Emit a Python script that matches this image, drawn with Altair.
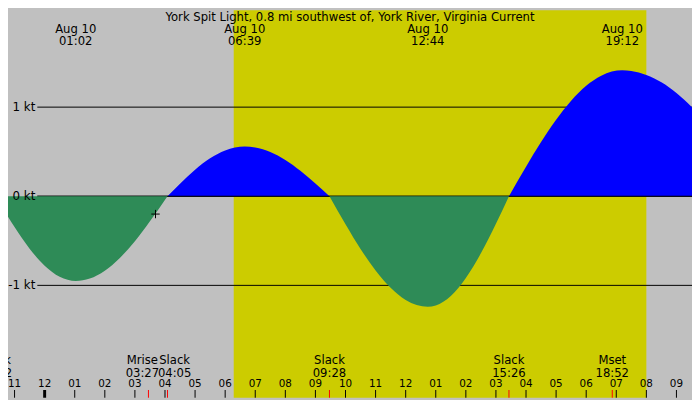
import altair as alt
import pandas as pd

TITLE = "York Spit Light, 0.8 mi southwest of, York River, Virginia Current"

# hours since midnight Aug 10, current in knots
EBB1_H = [-1.633, -1, -0.5, 0, 0.5, 1.033, 1.5, 2, 2.5, 3, 3.5, 4.083]
EBB1_V = [0, -0.346, -0.588, -0.779, -0.903, -0.95, -0.923, -0.835, -0.692, -0.504, -0.281, 0]
FLOOD1_H = [4.083, 4.5, 5, 5.5, 6, 6.65, 7, 7.5, 8, 8.5, 9, 9.467]
FLOOD1_V = [0, 0.141, 0.296, 0.425, 0.513, 0.557, 0.546, 0.496, 0.407, 0.286, 0.143, 0]
EBB2_H = [9.467, 10, 10.5, 11, 11.5, 12, 12.733, 13, 13.5, 14, 14.5, 15, 15.433]
EBB2_V = [0, -0.314, -0.591, -0.834, -1.028, -1.164, -1.24, -1.225, -1.119, -0.918, -0.641, -0.309, 0]
FLOOD2_H = [15.433, 16, 16.5, 17, 17.5, 18, 18.5, 19.2, 19.5, 20, 20.5, 21, 21.5, 22]
FLOOD2_V = [0, 0.331, 0.608, 0.859, 1.073, 1.240, 1.353, 1.413, 1.406, 1.361, 1.278, 1.158, 1.004, 0.822]

SUNRISE_H = 6.284
SUNSET_H = 20.0

MAX_H = [1.033, 6.65, 12.733, 19.2]
MAX_DATE = ["Aug 10", "Aug 10", "Aug 10", "Aug 10"]
MAX_TIME = ["01:02", "06:39", "12:44", "19:12"]

EV_NAME = ["Slack", "Mrise", "Slack", "Slack", "Slack", "Mset"]
EV_TIME = ["22:22", "03:27", "04:05", "09:28", "15:26", "18:52"]
EV_H = [-1.633, 3.45, 4.083, 9.467, 15.433, 18.867]
EV_LABEL_H = [-1.633, 3.248, 4.32, 9.467, 15.433, 18.867]

HOUR_H = list(range(-1, 22))
HOUR_LABEL = ["11", "12", "01", "02", "03", "04", "05", "06", "07", "08", "09", "10", "11",
              "12", "01", "02", "03", "04", "05", "06", "07", "08", "09"]

KT_V = [1, 0, -1]
KT_LABEL = ["1 kt", "0 kt", "-1 kt"]

NOW_H = [3.685]
NOW_V = [-0.20]

W, H = 692, 392
SX, SY = W / 700, H / 400
FONT = "DejaVu Sans"
FS = 11.75

xs = alt.Scale(domain=[-1.218, 21.517], nice=False, zero=False)
ys = alt.Scale(domain=[-2.261, 2.087], nice=False, zero=False)
X = lambda f: alt.X(f, type="quantitative", scale=xs, axis=None)
Y = lambda f: alt.Y(f, type="quantitative", scale=ys, axis=None)

rows = []
for lobe, d, hs, vs in [("e1", "ebb", EBB1_H, EBB1_V), ("f1", "flood", FLOOD1_H, FLOOD1_V),
                        ("e2", "ebb", EBB2_H, EBB2_V), ("f2", "flood", FLOOD2_H, FLOOD2_V)]:
    for h, v in zip(hs, vs):
        rows.append({"h": h, "v": v, "lobe": lobe, "dir": d})
curve = pd.DataFrame(rows)

day = alt.Chart(pd.DataFrame({"a": [SUNRISE_H], "b": [SUNSET_H]})).mark_rect(color="#CCCC00").encode(
    x=X("a"), x2="b", y=alt.value(0), y2=alt.value(H))

kt = pd.DataFrame({"v": KT_V, "label": KT_LABEL})
rules = alt.Chart(kt).mark_rule(color="black", strokeWidth=1).encode(
    y=Y("v"), x=alt.value(30 * SX), x2=alt.value(W))
zero_rule = alt.Chart(kt[kt.v == 0]).mark_rule(color="black", strokeWidth=1).encode(
    y=Y("v"), x=alt.value(30 * SX), x2=alt.value(W))

def area(direction):
    return alt.Chart(curve[curve.dir == direction]).mark_area(interpolate="monotone", clip=True).encode(
        x=X("h"), y=Y("v"), y2=alt.datum(0), detail="lobe:N",
        color=alt.Color("dir:N", scale=alt.Scale(domain=["flood", "ebb"], range=["#0000FF", "#2E8B57"]),
                        legend=None))

kt_text = alt.Chart(kt).mark_text(font=FONT, fontSize=12, align="right", baseline="middle", color="black").encode(
    y=Y("v"), x=alt.value(28 * SX), text="label:N")

title = alt.Chart(pd.DataFrame({"t": [TITLE]})).mark_text(font=FONT, fontSize=FS, baseline="middle", color="black").encode(
    x=alt.value(350 * SX), y=alt.value(7 * SY), text="t:N")

mx = pd.DataFrame({"h": MAX_H, "d": MAX_DATE, "t": MAX_TIME})
top_date = alt.Chart(mx).mark_text(font=FONT, fontSize=FS, baseline="middle", color="black").encode(
    x=X("h"), y=alt.value(19.5 * SY), text="d:N")
top_time = alt.Chart(mx).mark_text(font=FONT, fontSize=FS, baseline="middle", color="black").encode(
    x=X("h"), y=alt.value(31.5 * SY), text="t:N")

ev = pd.DataFrame({"h": EV_H, "lh": EV_LABEL_H, "n": EV_NAME, "t": EV_TIME})
ev_name = alt.Chart(ev).mark_text(font=FONT, fontSize=FS, baseline="middle", color="black").encode(
    x=X("lh"), y=alt.value(361.5 * SY), text="n:N")
ev_time = alt.Chart(ev).mark_text(font=FONT, fontSize=FS, baseline="middle", color="black").encode(
    x=X("lh"), y=alt.value(374 * SY), text="t:N")

hr = pd.DataFrame({"h": HOUR_H, "l": HOUR_LABEL, "w": [3 if h == 0 else 1 for h in HOUR_H]})
hour_text = alt.Chart(hr).mark_text(font=FONT, fontSize=10.5, baseline="middle", color="black").encode(
    x=X("h"), y=alt.value(385.5 * SY), text="l:N")
hour_ticks = alt.Chart(hr).mark_rule(color="black").encode(
    x=X("h"), y=alt.value(392 * SY), y2=alt.value(H),
    strokeWidth=alt.StrokeWidth("w:Q", scale=None))
ev_ticks = alt.Chart(ev).mark_rule(color="red", strokeWidth=1).encode(
    x=X("h"), y=alt.value(392 * SY), y2=alt.value(H))

now = alt.Chart(pd.DataFrame({"h": NOW_H, "v": NOW_V})).mark_point(
    shape="M-1,0L1,0M0,-1L0,1", size=72, filled=False, color="black", strokeWidth=1, opacity=1).encode(
    x=X("h"), y=Y("v"))

chart = alt.layer(
    day, rules, area("flood"), zero_rule, area("ebb"), now,
    kt_text, title, top_date, top_time, ev_name, ev_time, hour_text, hour_ticks, ev_ticks
).properties(
    width=W, height=H, padding=0, background="#C0C0C0",
    autosize=alt.AutoSizeParams(type="none")
).configure_view(strokeWidth=0)

chart.save("out.html", embed_options={"renderer": "svg", "actions": False})
